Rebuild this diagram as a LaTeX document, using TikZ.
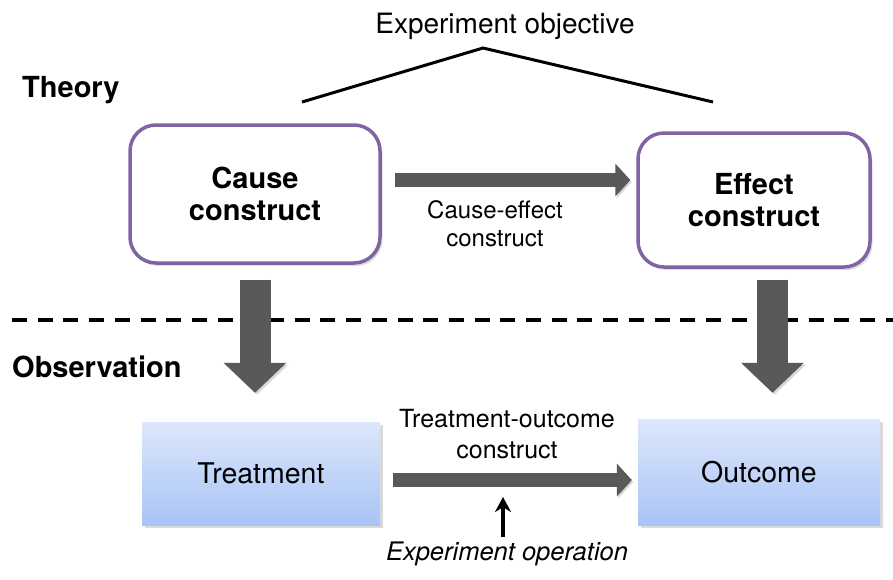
\documentclass[tikz,border=0pt]{standalone}
\usepackage{fontspec}
\setmainfont{TeX Gyre Heros}
\usetikzlibrary{arrows.meta,shadows}

\definecolor{constructpurple}{RGB}{128,100,162}
\definecolor{fatgray}{RGB}{89,89,89}
\definecolor{obstop}{RGB}{221,231,251}
\definecolor{obsbottom}{RGB}{168,196,246}

\tikzset{
  construct/.style={draw=constructpurple, line width=3.5pt, fill=white,
    rounded corners=26pt, align=center, inner sep=0pt,
    font=\fontsize{29}{32}\selectfont\bfseries,
    drop shadow={shadow xshift=2.5pt, shadow yshift=-3pt, opacity=0.25}},
  observed/.style={top color=obstop, bottom color=obsbottom, draw=none,
    align=center, inner sep=0pt, font=\fontsize{28.5}{32}\selectfont,
    drop shadow={shadow xshift=3pt, shadow yshift=-3pt, opacity=0.3}},
  levellabel/.style={font=\fontsize{29}{32}\selectfont\bfseries, inner sep=0pt},
  linklabel/.style={align=center, inner sep=0pt},
  flatarrow/.style={draw=fatgray, line width=14pt,
    -{Triangle[width=32pt,length=15pt]},
    preaction={draw=black, opacity=0.15, transform canvas={xshift=1.5pt,yshift=-2pt}}},
  downarrow/.style={draw=fatgray, line width=31pt,
    -{Triangle[width=61pt,length=30pt]},
    preaction={draw=black, opacity=0.15, transform canvas={xshift=2pt,yshift=-2pt}}},
  hat/.style={draw=black, line width=3pt, line join=miter},
  divider/.style={draw=black, line width=4.5pt, dash pattern=on 15pt off 10.7pt},
  pointer/.style={draw=black, line width=3.2pt, -{Stealth[width=16pt,length=15pt]}}
}

\begin{document}
\begin{tikzpicture}[x=1pt, y=-1pt]
  \useasboundingbox (0,0) rectangle (893,579);

  % theory / observation divider
  \coordinate (divL) at (12,320);
  \coordinate (divR) at (893,320);
  \draw[divider] (divL) -- (divR);

  % level captions
  \node[levellabel, anchor=base west] (theory) at (22,97) {Theory};
  \node[levellabel, anchor=base west] (observation) at (12,377) {Observation};

  % objective and its roof
  \node[anchor=base, inner sep=0pt, font=\fontsize{28}{32}\selectfont] (objective) at (505,33) {Experiment objective};
  \coordinate (roofL) at (302,102);
  \coordinate (roofTop) at (483,48);
  \coordinate (roofR) at (713,102);
  \draw[hat] (roofL) -- (roofTop) -- (roofR);

  % constructs
  \node[construct, minimum width=250pt, minimum height=138pt] (cause) at (255,194) {Cause\\construct};
  \node[construct, minimum width=232pt, minimum height=134pt] (effect) at (754,200) {Effect\\construct};

  % observed counterparts
  \node[observed, minimum width=238pt, minimum height=103pt] (treat) at (261,473.5) {Treatment};
  \node[observed, minimum width=242pt, minimum height=106pt] (outcome) at (759,472) {Outcome};

  % cause-effect link
  \path (cause.east) ++(13pt,14pt) coordinate (ceStart);
  \draw[flatarrow, shorten >=6pt] (ceStart) -- (ceStart -| effect.west);
  \node[linklabel, font=\fontsize{24}{28}\selectfont] (celabel) at (495,224) {Cause-effect\\construct};

  % theory to observation
  \draw[downarrow, shorten <=15pt, shorten >=29pt] (cause.south) -- (cause.south |- treat.north);
  \path (effect.south) ++(18.5pt,0pt) coordinate (effDown);
  \draw[downarrow, shorten <=11pt, shorten >=26pt] (effDown) -- (effDown |- outcome.north);

  % treatment-outcome link
  \path (treat.east) ++(13pt,-6.5pt) coordinate (toStart);
  \draw[flatarrow, shorten >=6pt] (toStart) -- (toStart -| outcome.west);
  \node[linklabel, font=\fontsize{25}{31}\selectfont] (tolabel) at (507,434) {Treatment-outcome\\construct};

  % experiment operation
  \node[anchor=base, inner sep=0pt, font=\fontsize{25.5}{30}\selectfont\itshape] (operation) at (507,560) {Experiment operation};
  \coordinate (opTip) at (503,497);
  \draw[pointer] (operation.north -| opTip) ++(0,-4) -- (opTip);
\end{tikzpicture}
\end{document}
